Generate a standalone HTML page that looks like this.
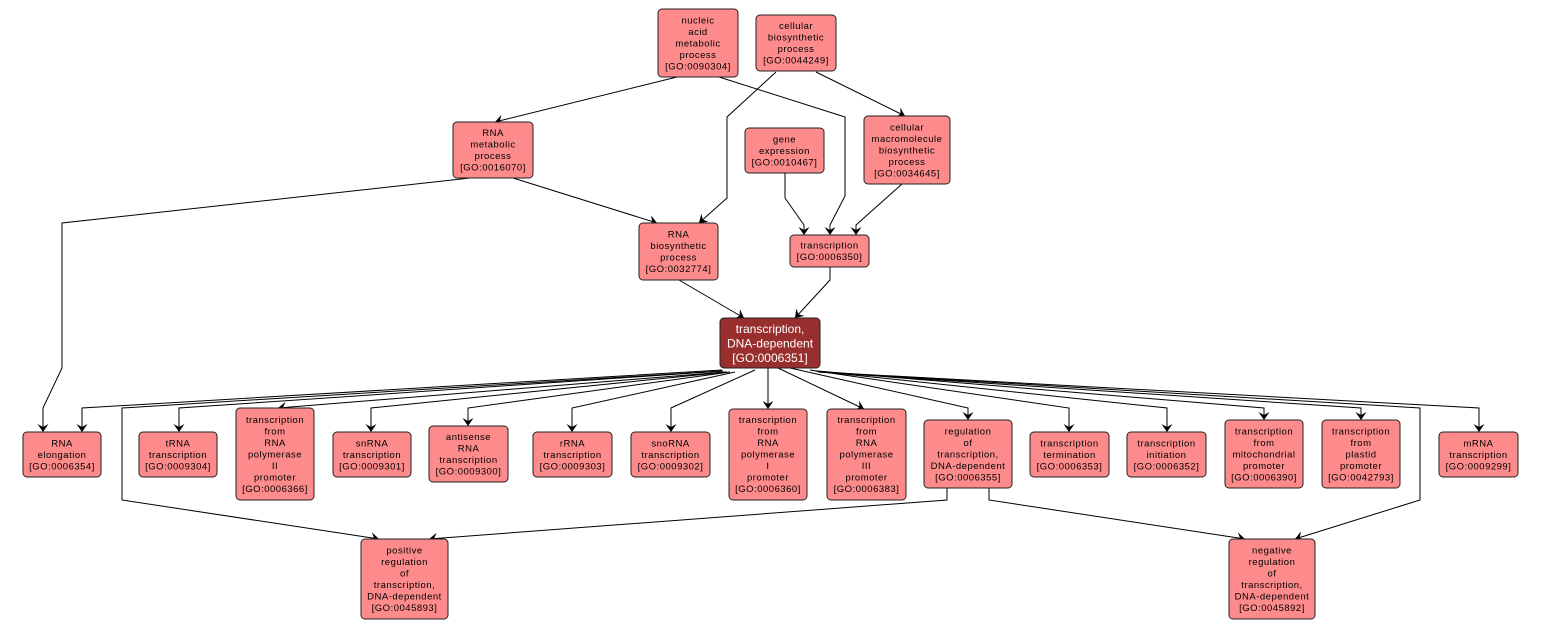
<!DOCTYPE html>
<html><head><meta charset="utf-8"><style>
html,body{margin:0;padding:0;background:#fff;}
svg{display:block;}
text{font-family:"Liberation Sans",Arial,sans-serif;font-size:9.5px;letter-spacing:0.5px;fill:#000;text-anchor:middle;}
text.c{font-size:12px;letter-spacing:0;fill:#fff;}
rect{fill:#fd8b8b;stroke:#222;stroke-width:1;}
rect.c{fill:#992e2e;}
polyline{fill:none;stroke:#000;stroke-width:1;}
</style></head><body>
<svg width="1546" height="629" viewBox="0 0 1546 629" xmlns="http://www.w3.org/2000/svg">
<defs><marker id="a" markerWidth="12" markerHeight="12" refX="8" refY="5.5" orient="auto" markerUnits="userSpaceOnUse"><path d="M0,0 L8,5.5 L0,11 L3,5.5 z" fill="#000"/></marker></defs>
<g>
<polyline points="677,77 495,122" marker-end="url(#a)"/>
<polyline points="719,77 845,117 845,196 830,225 830,235" marker-end="url(#a)"/>
<polyline points="776,72 727,117 727,198 699,223" marker-end="url(#a)"/>
<polyline points="816,72 905,116" marker-end="url(#a)"/>
<polyline points="785,173 785,198 804,225 804,235" marker-end="url(#a)"/>
<polyline points="902,184 856,225 856,235" marker-end="url(#a)"/>
<polyline points="513,178 657,223" marker-end="url(#a)"/>
<polyline points="470,178 62,223 62,368 43,408 43,432" marker-end="url(#a)"/>
<polyline points="679,280 744,318" marker-end="url(#a)"/>
<polyline points="830,267 830,280 795,318" marker-end="url(#a)"/>
<polyline points="722,370 82,408 82,432" marker-end="url(#a)"/>
<polyline points="722,371 122,408 122,500 379,539" marker-end="url(#a)"/>
<polyline points="723,371 179,408 179,432" marker-end="url(#a)"/>
<polyline points="725,372 278,408" marker-end="url(#a)"/>
<polyline points="727,372 371,408 371,432" marker-end="url(#a)"/>
<polyline points="730,372 468,408 468,426" marker-end="url(#a)"/>
<polyline points="735,372 572,408 572,432" marker-end="url(#a)"/>
<polyline points="755,370 671,408 671,432" marker-end="url(#a)"/>
<polyline points="768,368 768,409" marker-end="url(#a)"/>
<polyline points="778,368 864,409" marker-end="url(#a)"/>
<polyline points="790,368 968,408 968,420" marker-end="url(#a)"/>
<polyline points="810,370 1069,408 1069,432" marker-end="url(#a)"/>
<polyline points="815,371 1167,408 1167,432" marker-end="url(#a)"/>
<polyline points="817,371 1264,408 1264,420" marker-end="url(#a)"/>
<polyline points="818,372 1361,408 1361,420" marker-end="url(#a)"/>
<polyline points="819,372 1420,408 1420,500 1295,539" marker-end="url(#a)"/>
<polyline points="820,372 1479,408 1479,432" marker-end="url(#a)"/>
<polyline points="947,488 947,500 429,539" marker-end="url(#a)"/>
<polyline points="989,488 989,500 1245,539" marker-end="url(#a)"/>
</g>

<rect x="658" y="9" width="80" height="68" rx="4"/>
<text x="698" y="23.3">nucleic</text><text x="698" y="34.8">acid</text><text x="698" y="46.3">metabolic</text><text x="698" y="57.8">process</text><text x="698" y="69.3">[GO:0090304]</text>

<rect x="756" y="15" width="80" height="56" rx="4"/>
<text x="796" y="29">cellular</text><text x="796" y="40.5">biosynthetic</text><text x="796" y="52">process</text><text x="796" y="63.5">[GO:0044249]</text>

<rect x="453" y="122" width="80" height="56" rx="4"/>
<text x="493" y="136">RNA</text><text x="493" y="147.5">metabolic</text><text x="493" y="159">process</text><text x="493" y="170.5">[GO:0016070]</text>

<rect x="745" y="128" width="79" height="45" rx="4"/>
<text x="784.5" y="142.3">gene</text><text x="784.5" y="153.8">expression</text><text x="784.5" y="165.3">[GO:0010467]</text>

<rect x="864" y="116" width="86" height="68" rx="4"/>
<text x="907" y="130.3">cellular</text><text x="907" y="141.8">macromolecule</text><text x="907" y="153.3">biosynthetic</text><text x="907" y="164.8">process</text><text x="907" y="176.3">[GO:0034645]</text>

<rect x="639" y="223" width="79" height="57" rx="4"/>
<text x="678.5" y="237.5">RNA</text><text x="678.5" y="249">biosynthetic</text><text x="678.5" y="260.5">process</text><text x="678.5" y="272">[GO:0032774]</text>

<rect x="790" y="235" width="79" height="32" rx="4"/>
<text x="829.5" y="248.5">transcription</text><text x="829.5" y="260">[GO:0006350]</text>

<rect class="c" x="720" y="318" width="100" height="50" rx="4"/>
<text class="c" x="770" y="332.8">transcription,</text><text class="c" x="770" y="347.3">DNA-dependent</text><text class="c" x="770" y="361.8">[GO:0006351]</text>

<rect x="23" y="432" width="78" height="45" rx="4"/>
<text x="62" y="446.3">RNA</text><text x="62" y="457.8">elongation</text><text x="62" y="469.3">[GO:0006354]</text>

<rect x="139" y="432" width="78" height="45" rx="4"/>
<text x="178" y="446.3">tRNA</text><text x="178" y="457.8">transcription</text><text x="178" y="469.3">[GO:0009304]</text>

<rect x="236" y="408" width="78" height="92" rx="4"/>
<text x="275" y="422.8">transcription</text><text x="275" y="434.3">from</text><text x="275" y="445.8">RNA</text><text x="275" y="457.3">polymerase</text><text x="275" y="468.8">II</text><text x="275" y="480.3">promoter</text><text x="275" y="491.8">[GO:0006366]</text>

<rect x="333" y="432" width="78" height="45" rx="4"/>
<text x="372" y="446.3">snRNA</text><text x="372" y="457.8">transcription</text><text x="372" y="469.3">[GO:0009301]</text>

<rect x="429" y="426" width="79" height="56" rx="4"/>
<text x="468.5" y="440">antisense</text><text x="468.5" y="451.5">RNA</text><text x="468.5" y="463">transcription</text><text x="468.5" y="474.5">[GO:0009300]</text>

<rect x="533" y="432" width="79" height="45" rx="4"/>
<text x="572.5" y="446.3">rRNA</text><text x="572.5" y="457.8">transcription</text><text x="572.5" y="469.3">[GO:0009303]</text>

<rect x="631" y="432" width="79" height="45" rx="4"/>
<text x="670.5" y="446.3">snoRNA</text><text x="670.5" y="457.8">transcription</text><text x="670.5" y="469.3">[GO:0009302]</text>

<rect x="729" y="409" width="78" height="91" rx="4"/>
<text x="768" y="422.8">transcription</text><text x="768" y="434.3">from</text><text x="768" y="445.8">RNA</text><text x="768" y="457.3">polymerase</text><text x="768" y="468.8">I</text><text x="768" y="480.3">promoter</text><text x="768" y="491.8">[GO:0006360]</text>

<rect x="827" y="409" width="79" height="91" rx="4"/>
<text x="866.5" y="422.8">transcription</text><text x="866.5" y="434.3">from</text><text x="866.5" y="445.8">RNA</text><text x="866.5" y="457.3">polymerase</text><text x="866.5" y="468.8">III</text><text x="866.5" y="480.3">promoter</text><text x="866.5" y="491.8">[GO:0006383]</text>

<rect x="924" y="420" width="88" height="68" rx="4"/>
<text x="968" y="434.3">regulation</text><text x="968" y="445.8">of</text><text x="968" y="457.3">transcription,</text><text x="968" y="468.8">DNA-dependent</text><text x="968" y="480.3">[GO:0006355]</text>

<rect x="1030" y="432" width="79" height="45" rx="4"/>
<text x="1069.5" y="446.3">transcription</text><text x="1069.5" y="457.8">termination</text><text x="1069.5" y="469.3">[GO:0006353]</text>

<rect x="1127" y="432" width="79" height="45" rx="4"/>
<text x="1166.5" y="446.3">transcription</text><text x="1166.5" y="457.8">initiation</text><text x="1166.5" y="469.3">[GO:0006352]</text>

<rect x="1225" y="420" width="78" height="68" rx="4"/>
<text x="1264" y="434.3">transcription</text><text x="1264" y="445.8">from</text><text x="1264" y="457.3">mitochondrial</text><text x="1264" y="468.8">promoter</text><text x="1264" y="480.3">[GO:0006390]</text>

<rect x="1322" y="420" width="78" height="68" rx="4"/>
<text x="1361" y="434.3">transcription</text><text x="1361" y="445.8">from</text><text x="1361" y="457.3">plastid</text><text x="1361" y="468.8">promoter</text><text x="1361" y="480.3">[GO:0042793]</text>

<rect x="1439" y="432" width="79" height="45" rx="4"/>
<text x="1478.5" y="446.3">mRNA</text><text x="1478.5" y="457.8">transcription</text><text x="1478.5" y="469.3">[GO:0009299]</text>

<rect x="361" y="539" width="87" height="80" rx="4"/>
<text x="404.5" y="553.5">positive</text><text x="404.5" y="565">regulation</text><text x="404.5" y="576.5">of</text><text x="404.5" y="588">transcription,</text><text x="404.5" y="599.5">DNA-dependent</text><text x="404.5" y="611">[GO:0045893]</text>

<rect x="1229" y="539" width="86" height="80" rx="4"/>
<text x="1272" y="553.5">negative</text><text x="1272" y="565">regulation</text><text x="1272" y="576.5">of</text><text x="1272" y="588">transcription,</text><text x="1272" y="599.5">DNA-dependent</text><text x="1272" y="611">[GO:0045892]</text>
</svg>
</body></html>
